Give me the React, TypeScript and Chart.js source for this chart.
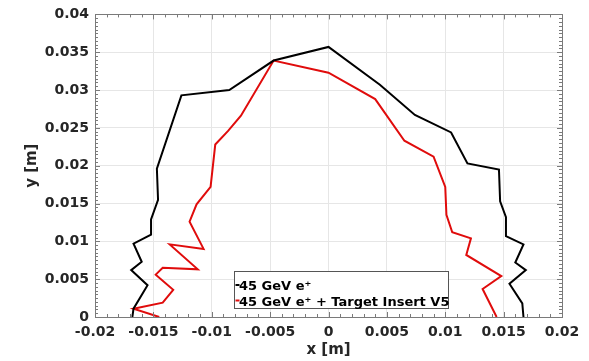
import { useEffect, useRef } from "react";
import { Chart, registerables } from "chart.js";
Chart.register(...registerables);

const xTickValues = [-0.02, -0.015, -0.01, -0.005, 0, 0.005, 0.01, 0.015, 0.02];
const xTickLabels = ["-0.02", "-0.015", "-0.01", "-0.005", "0", "0.005", "0.01", "0.015", "0.02"];
const yTickValues = [0, 0.005, 0.01, 0.015, 0.02, 0.025, 0.03, 0.035, 0.04];
const yTickLabels = ["0", "0.005", "0.01", "0.015", "0.02", "0.025", "0.03", "0.035", "0.04"];

const seriesNames = ["45 GeV e⁺", "45 GeV e⁺ + Target Insert V5"];

const blackX = [-0.0168, -0.0167, -0.0155, -0.0169, -0.0160, -0.0167, -0.0152, -0.0152, -0.0146, -0.0147, -0.0126, -0.0085, -0.0047, 0, 0.0044, 0.0074, 0.0105, 0.0119, 0.0146, 0.0147, 0.0152, 0.0152, 0.0167, 0.0160, 0.0169, 0.0155, 0.0166, 0.0167];
const blackY = [0, 0.0011, 0.0042, 0.0062, 0.0073, 0.0097, 0.0109, 0.0129, 0.0155, 0.0196, 0.0293, 0.0300, 0.0339, 0.0357, 0.0307, 0.0267, 0.0244, 0.0203, 0.0195, 0.0153, 0.0132, 0.0107, 0.0096, 0.0072, 0.0062, 0.0044, 0.0018, 0];

const redX = [-0.0145, -0.0167, -0.0142, -0.0133, -0.0148, -0.0142, -0.0112, -0.0136, -0.0107, -0.0119, -0.0113, -0.0101, -0.0097, -0.0086, -0.0075, -0.0047, 0, 0.0040, 0.0065, 0.0090, 0.0100, 0.0101, 0.0106, 0.0122, 0.0118, 0.0148, 0.0132, 0.0144];
const redY = [0, 0.0011, 0.0019, 0.0036, 0.0056, 0.0065, 0.0063, 0.0096, 0.0090, 0.0126, 0.0149, 0.0172, 0.0228, 0.0246, 0.0266, 0.0339, 0.0323, 0.0288, 0.0233, 0.0212, 0.0172, 0.0135, 0.0112, 0.0104, 0.0082, 0.0054, 0.0037, 0];

const toPoints = (xs: number[], ys: number[]) => xs.map((x, i) => ({ x, y: ys[i] }));

const boxPlugin = {
  id: "boxTicks",
  afterDatasetsDraw(chart: any) {
    const { ctx, chartArea: a, scales } = chart;
    const xs = scales.x, ys = scales.y;
    ctx.save();
    ctx.strokeStyle = "#7a7a7a";
    ctx.lineWidth = 1;
    // minor + major ticks inward
    ctx.beginPath();
    for (let i = -20; i <= 20; i++) {
      const v = i * 0.001;
      const px = Math.round(xs.getPixelForValue(v)) + 0.5;
      const len = i % 5 === 0 ? 5 : 3;
      ctx.moveTo(px, a.bottom); ctx.lineTo(px, a.bottom - len);
      ctx.moveTo(px, a.top); ctx.lineTo(px, a.top + len);
    }
    for (let i = 0; i <= 80; i++) {
      const v = i * 0.0005;
      const py = Math.round(ys.getPixelForValue(v)) + 0.5;
      const len = i % 10 === 0 ? 5 : 3;
      ctx.moveTo(a.left, py); ctx.lineTo(a.left + len, py);
      ctx.moveTo(a.right, py); ctx.lineTo(a.right - len, py);
    }
    ctx.stroke();
    ctx.strokeRect(Math.round(a.left) + 0.5, Math.round(a.top) + 0.5, Math.round(a.right - a.left), Math.round(a.bottom - a.top));

    // legend
    const lx = 234.5, ly = 271.5, lw = 214, lh = 37;
    ctx.fillStyle = "#ffffff";
    ctx.fillRect(lx, ly, lw, lh);
    ctx.strokeStyle = "#555555";
    ctx.strokeRect(lx, ly, lw, lh);
    ctx.font = "bold 13px 'DejaVu Sans'";
    ctx.textBaseline = "alphabetic";
    ctx.textAlign = "left";
    chart.data.datasets.forEach((ds: any, i: number) => {
      const base = 290 + i * 15.5;
      ctx.strokeStyle = ds.borderColor;
      ctx.lineWidth = 2;
      ctx.beginPath();
      ctx.moveTo(235.5, base - 5);
      ctx.lineTo(239.5, base - 5);
      ctx.stroke();
      ctx.fillStyle = "#000000";
      ctx.fillText(ds.label, 239, base);
    });
    ctx.restore();
  },
};

export default function App() {
  const ref = useRef<HTMLCanvasElement>(null);
  useEffect(() => {
    if (!ref.current) return;
    const tickFont = { family: "'DejaVu Sans'", size: 14, weight: "bold" as const };
    const chart = new Chart(ref.current, {
      type: "scatter",
      data: {
        datasets: [
          { label: seriesNames[0], data: toPoints(blackX, blackY), showLine: true, borderColor: "#000000", borderWidth: 2, pointRadius: 0, fill: false },
          { label: seriesNames[1], data: toPoints(redX, redY), showLine: true, borderColor: "#e00c0c", borderWidth: 2, pointRadius: 0, fill: false },
        ],
      },
      options: {
        animation: false,
        responsive: false,
        layout: { padding: { top: 10, right: 27, left: 0, bottom: 0 } },
        plugins: { legend: { display: false }, tooltip: { enabled: false } },
        scales: {
          x: {
            type: "linear",
            min: -0.02,
            max: 0.02,
            afterBuildTicks: (s: any) => { s.ticks = xTickValues.map((v) => ({ value: v })); },
            afterFit: (s: any) => { s.height = 44; },
            ticks: {
              autoSkip: false,
              maxRotation: 0,
              padding: 7,
              color: "#262626",
              font: tickFont,
              callback: (v: any) => { const i = xTickValues.findIndex((t) => Math.abs(t - v) < 1e-9); return i >= 0 ? xTickLabels[i] : ""; },
            },
            grid: { color: "#e6e6e6", drawTicks: false },
            border: { display: false },
            title: { display: true, text: "x [m]", color: "#262626", font: { family: "'DejaVu Sans'", size: 15, weight: "bold" }, padding: { top: 0, bottom: 2 } },
          },
          y: {
            type: "linear",
            min: 0,
            max: 0.04,
            afterBuildTicks: (s: any) => { s.ticks = yTickValues.map((v) => ({ value: v })); },
            afterFit: (s: any) => { s.width = 95; },
            ticks: {
              autoSkip: false,
              padding: 6,
              color: "#262626",
              font: tickFont,
              callback: (v: any) => { const i = yTickValues.findIndex((t) => Math.abs(t - v) < 1e-9); return i >= 0 ? yTickLabels[i] : ""; },
            },
            grid: { color: "#e6e6e6", drawTicks: false },
            border: { display: false },
            title: { display: true, text: "y [m]", color: "#262626", font: { family: "'DejaVu Sans'", size: 15, weight: "bold" }, padding: { top: 23, bottom: 0 } },
          },
        },
      },
      plugins: [boxPlugin],
    });
    return () => chart.destroy();
  }, []);
  return (
    <div style={{ position: "fixed", left: 0, top: 0, width: 589, height: 361, background: "#ffffff" }}>
      <canvas ref={ref} width={589} height={361} style={{ display: "block" }} />
    </div>
  );
}
